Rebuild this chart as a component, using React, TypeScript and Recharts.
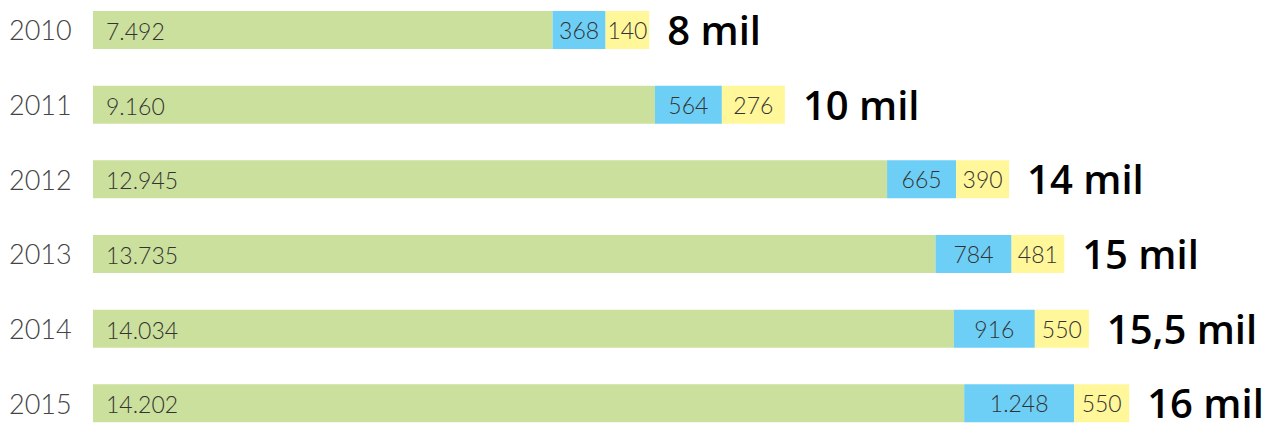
import React from 'react';
import { BarChart, Bar, XAxis, YAxis, LabelList } from 'recharts';

const years = ['2010', '2011', '2012', '2013', '2014', '2015'];
const greenValues = [7492, 9160, 12945, 13735, 14034, 14202];
const blueValues = [368, 564, 665, 784, 916, 1248];
const yellowValues = [140, 276, 390, 481, 550, 550];
const totalLabels = ['8 mil', '10 mil', '14 mil', '15 mil', '15,5 mil', '16 mil'];
// segment lengths as drawn in the picture (same units as the green values);
// the small segments are drawn wider than their values so the labels fit
const blueDrawnLengths = [864, 1092, 1125, 1239, 1320, 1793];
const yellowDrawnLengths = [712, 1027, 864, 859, 880, 897];

const fmt = (n: number) => String(n).replace(/\B(?=(\d{3})+(?!\d))/g, '.');

const data = years.map((y, i) => ({
  year: y,
  green: greenValues[i],
  blue: blueDrawnLengths[i],
  yellow: yellowDrawnLengths[i],
  greenLabel: fmt(greenValues[i]),
  blueLabel: fmt(blueValues[i]),
  yellowLabel: fmt(yellowValues[i]),
  total: totalLabels[i],
}));

const LIGHT = "Lato, 'Open Sans', sans-serif";
const BOLD = "'Open Sans', 'DejaVu Sans', sans-serif";
const GREEN = '#cbe09d';
const BLUE = '#6dcff6';
const YELLOW = '#fff799';

const YearTick = (props: any) => {
  const { y, payload } = props;
  return (
    <text x={9} y={y + 10} fontFamily={LIGHT} fontSize={27} fontWeight={300} fill="#444" textAnchor="start">
      {payload.value}
    </text>
  );
};

const LeftLabel = (props: any) => {
  const { x, y, height, value } = props;
  return (
    <text x={Number(x) + 13} y={Number(y) + Number(height) / 2 + 10} fontFamily={LIGHT} fontSize={23} fontWeight={300} fill="#333" textAnchor="start">
      {value}
    </text>
  );
};

const CenterLabel = (props: any) => {
  const { x, y, width, height, value } = props;
  return (
    <text x={Number(x) + Number(width) / 2} y={Number(y) + Number(height) / 2 + 9} fontFamily={LIGHT} fontSize={23} fontWeight={300} fill="#333" textAnchor="middle">
      {value}
    </text>
  );
};

const TotalLabel = (props: any) => {
  const { x, y, width, height, value } = props;
  return (
    <text x={Number(x) + Number(width) + 18} y={Number(y) + Number(height) / 2 + 15} fontFamily={BOLD} fontSize={40} fontWeight={600} fill="#000" textAnchor="start">
      {value}
    </text>
  );
};

export default function App() {
  return (
    <div style={{ position: 'absolute', left: 0, top: -7.3 }}>
      <BarChart
        width={1273}
        height={448}
        data={data}
        layout="vertical"
        margin={{ top: 0, right: 14.5, bottom: 0, left: 0 }}
        barCategoryGap={0}
      >
        <XAxis type="number" domain={[0, 19000]} hide allowDataOverflow />
        <YAxis type="category" dataKey="year" width={93} axisLine={false} tickLine={false} tick={<YearTick />} interval={0} />
        <Bar dataKey="green" stackId="a" fill={GREEN} barSize={38} isAnimationActive={false}>
          <LabelList dataKey="greenLabel" content={<LeftLabel />} />
        </Bar>
        <Bar dataKey="blue" stackId="a" fill={BLUE} barSize={38} isAnimationActive={false}>
          <LabelList dataKey="blueLabel" content={<CenterLabel />} />
        </Bar>
        <Bar dataKey="yellow" stackId="a" fill={YELLOW} barSize={38} isAnimationActive={false}>
          <LabelList dataKey="yellowLabel" content={<CenterLabel />} />
          <LabelList dataKey="total" content={<TotalLabel />} />
        </Bar>
      </BarChart>
    </div>
  );
}
